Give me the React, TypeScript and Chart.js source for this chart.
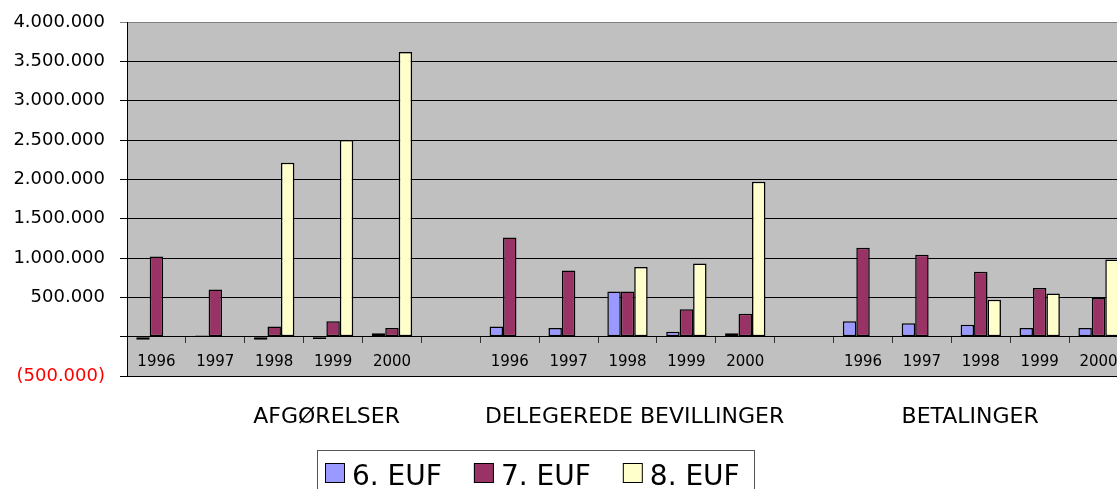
import React, { useEffect, useRef } from 'react';
import { Chart, registerables } from 'chart.js';

Chart.register(...registerables);

// ---- data ----
const years = ['1996', '1997', '1998', '1999', '2000'];
const groups = ['AFGØRELSER', 'DELEGEREDE BEVILLINGER', 'BETALINGER'];
const seriesNames = ['6. EUF', '7. EUF', '8. EUF'];

const euf6Afg = [-40000, 15000, -40000, -30000, 45000];
const euf7Afg = [1020000, 600000, 130000, 195000, 110000];
const euf8Afg = [null, null, 2210000, 2500000, 3620000];

const euf6Del = [130000, 110000, 575000, 63000, 42000];
const euf7Del = [1260000, 840000, 575000, 350000, 290000];
const euf8Del = [null, null, 885000, 930000, 1970000];

const euf6Bet = [195000, 170000, 152000, 110000, 110000];
const euf7Bet = [1130000, 1040000, 825000, 620000, 490000];
const euf8Bet = [null, null, 470000, 550000, 980000];

const yMin = -500000;
const yMax = 4000000;
const yStep = 500000;

// ---- styles ----
const colors = ['#9999FF', '#993366', '#FFFFCC'];
const FONT = '"DejaVu Sans", Verdana, sans-serif';
const groupCenterIdx = [2.89, 8.12, 13.82];

const categories = [...years, '', ...years, '', ...years];
const joinGroups = (a: (number | null)[], b: (number | null)[], c: (number | null)[]) => [...a, null, ...b, null, ...c];
const seriesData = [
  joinGroups(euf6Afg, euf6Del, euf6Bet),
  joinGroups(euf7Afg, euf7Del, euf7Bet),
  joinGroups(euf8Afg, euf8Del, euf8Bet),
];

const fmt = (v: number) => {
  if (v === 0) return '';
  const s = String(Math.abs(v)).replace(/\B(?=(\d{3})+(?!\d))/g, '.');
  return v < 0 ? `(${s})` : s;
};

const deco = {
  id: 'deco',
  beforeDraw(chart: any) {
    const { ctx, chartArea: a } = chart;
    ctx.save();
    ctx.fillStyle = '#C0C0C0';
    ctx.fillRect(a.left, a.top, a.right - a.left, a.bottom - a.top);
    ctx.restore();
  },
  afterDraw(chart: any) {
    const { ctx, chartArea: a } = chart;
    const xs = chart.scales.x;
    ctx.save();
    // group labels
    ctx.font = `22px ${FONT}`;
    ctx.fillStyle = '#000';
    ctx.textAlign = 'center';
    ctx.textBaseline = 'alphabetic';
    groups.forEach((g, i) => {
      ctx.fillText(g, xs.getPixelForValue(groupCenterIdx[i]), a.bottom + 47);
    });
    // legend
    const top = a.bottom + 74;
    const left = 317;
    const right = 754;
    ctx.strokeStyle = '#555';
    ctx.lineWidth = 1;
    ctx.strokeRect(left + 0.5, top + 0.5, right - left, 60);
    ctx.font = `28px ${FONT}`;
    ctx.textAlign = 'left';
    let x = left + 8;
    seriesNames.forEach((name, i) => {
      ctx.fillStyle = colors[i];
      ctx.fillRect(x, top + 13, 20, 20);
      ctx.strokeStyle = '#000';
      ctx.strokeRect(x + 0.5, top + 13.5, 19, 19);
      ctx.fillStyle = '#000';
      ctx.fillText(name, x + 27, top + 35);
      x += 27 + ctx.measureText(name).width + 32;
    });
    ctx.restore();
  },
};

export default function App() {
  const ref = useRef<HTMLCanvasElement | null>(null);
  useEffect(() => {
    if (!ref.current) return;
    const chart = new Chart(ref.current, {
      type: 'bar',
      data: {
        labels: categories,
        datasets: seriesNames.map((name, i) => ({
          label: name,
          data: seriesData[i],
          backgroundColor: colors[i],
          borderColor: '#000',
          borderWidth: 1.5,
          borderSkipped: false,
          categoryPercentage: 0.685,
          barPercentage: 1,
        })),
      },
      options: {
        animation: false,
        responsive: false,
        layout: { padding: { top: 22, bottom: 113, left: 0, right: 2 } },
        plugins: { legend: { display: false }, tooltip: { enabled: false } },
        scales: {
          x: {
            type: 'category',
            position: { y: 0 } as any,
            offset: true,
            grid: {
              offset: true,
              drawOnChartArea: false,
              drawTicks: true,
              tickLength: 6,
              color: '#333',
            },
            border: { display: true, color: '#000', width: 1 },
            ticks: {
              autoSkip: false,
              maxRotation: 0,
              color: '#000',
              padding: 10,
              font: { family: FONT, size: 15 },
            },
          },
          y: {
            min: yMin,
            max: yMax,
            afterFit(scale: any) {
              scale.width = 127;
              scale.paddingTop = 0;
              scale.paddingBottom = 0;
            },
            ticks: {
              stepSize: yStep,
              padding: 15,
              font: { family: FONT, size: 18 },
              color: (c: any) => (c.tick && c.tick.value < 0 ? '#FF0000' : '#000'),
              callback: (v: any) => fmt(Number(v)),
            },
            grid: {
              color: (c: any) => (c.tick && c.tick.value === yMax ? '#808080' : '#000'),
              lineWidth: 1,
              tickLength: 7,
            },
            border: { display: true, color: '#000', width: 1 },
          },
        },
      },
      plugins: [deco],
    });
    return () => chart.destroy();
  }, []);

  return (
    <div style={{ position: 'absolute', left: 0, top: 0, width: 1117, height: 489, overflow: 'hidden', background: '#fff' }}>
      <canvas ref={ref} width={1130} height={489} style={{ width: 1130, height: 489, display: 'block' }} />
    </div>
  );
}
